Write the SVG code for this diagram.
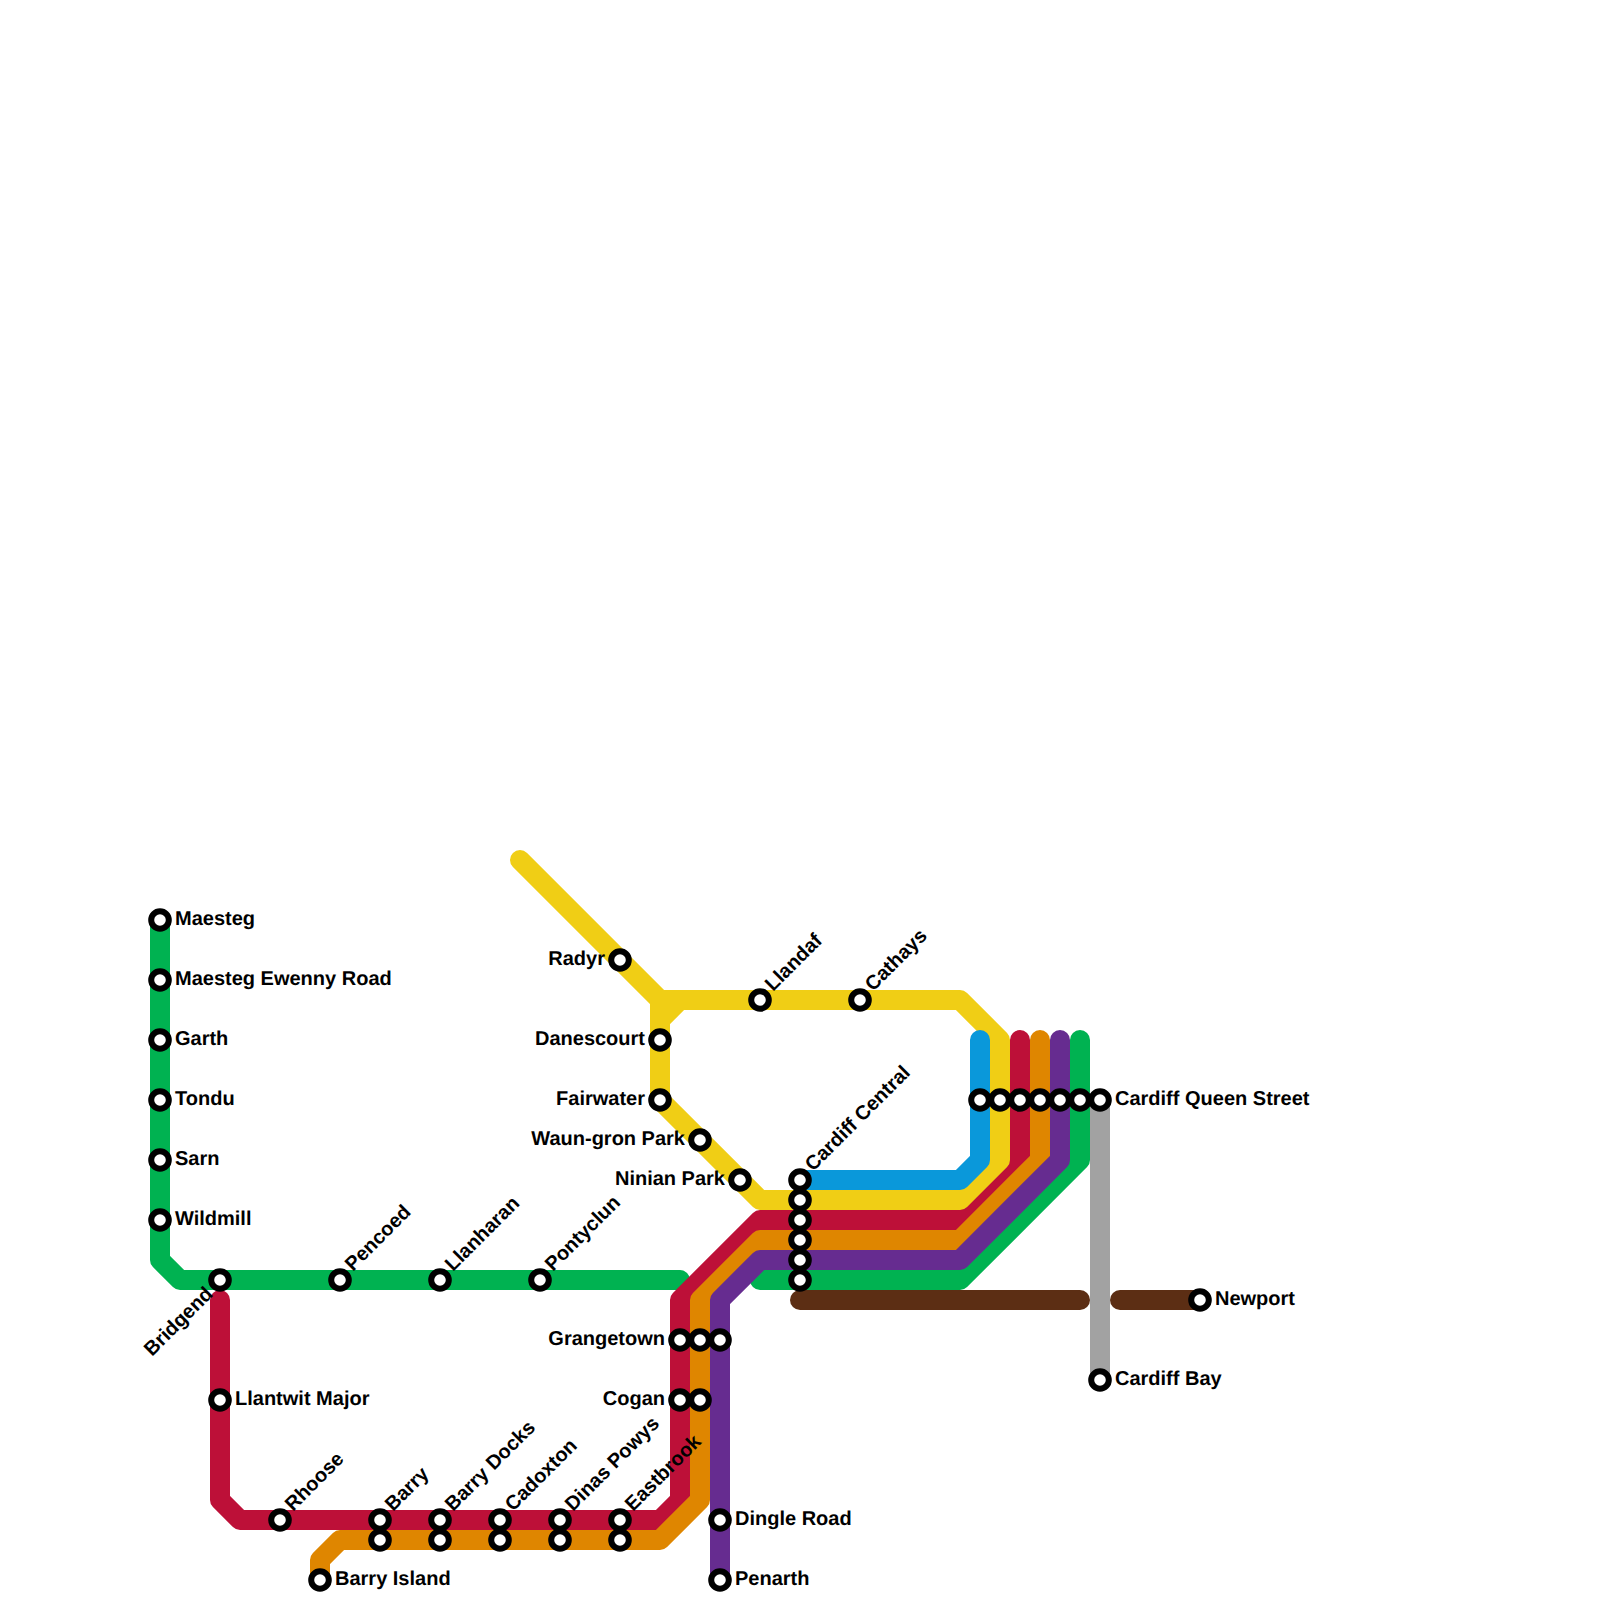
<svg xmlns="http://www.w3.org/2000/svg" width="1600" height="1600" viewBox="0 0 1600 1600">
<style>
.l{fill:none;stroke-width:20;stroke-linecap:round;stroke-linejoin:round}
.s{fill:#fff;stroke:#000;stroke-width:6}
text{font-family:"Liberation Sans",Arial,sans-serif;font-weight:700;font-size:20px;fill:#000;text-rendering:geometricPrecision}
.e{text-anchor:end}
</style>
<rect width="1600" height="1600" fill="#fff"/>
<g id="connectors">
<path class="l" stroke="#a2a2a2" d="M1100 1100V1380"/>
<path class="l" stroke="#5c2e14" d="M800 1300H1080"/>
<path class="l" stroke="#5c2e14" d="M1120 1300H1200"/>
<path class="l" stroke="#00b251" d="M160 920V1260L180 1280H680"/>
<path class="l" stroke="#00b251" d="M1080 1040V1160L960 1280H760"/>
<path class="l" stroke="#bd1038" d="M1020 1040V1160L960 1220H760L680 1300V1500L660 1520H240L220 1500V1300"/>
<path class="l" stroke="#df8600" d="M1040 1040V1160L960 1240H760L700 1300V1500L660 1540H340L320 1560V1580"/>
<path class="l" stroke="#662c90" d="M1060 1040V1160L960 1260H760L720 1300V1580"/>
<path class="l" stroke="#f0ce15" d="M520 860L660 1000H960L1000 1040V1160L960 1200H760L660 1100V1000M660 1020L680 1000"/>
<path class="l" stroke="#0a98da" d="M980 1040V1160L960 1180H800"/>
</g>
<g id="st-maesteg"><circle class="s" cx="160" cy="920" r="8.8"/><text x="175" y="925">Maesteg</text></g>
<g id="st-maesteg-ewenny"><circle class="s" cx="160" cy="980" r="8.8"/><text x="175" y="985">Maesteg Ewenny Road</text></g>
<g id="st-garth"><circle class="s" cx="160" cy="1040" r="8.8"/><text x="175" y="1045">Garth</text></g>
<g id="st-tondu"><circle class="s" cx="160" cy="1100" r="8.8"/><text x="175" y="1105">Tondu</text></g>
<g id="st-sarn"><circle class="s" cx="160" cy="1160" r="8.8"/><text x="175" y="1165">Sarn</text></g>
<g id="st-wildmill"><circle class="s" cx="160" cy="1220" r="8.8"/><text x="175" y="1225">Wildmill</text></g>
<g id="st-bridgend"><circle class="s" cx="220" cy="1280" r="8.8"/><text class="e" transform="translate(214 1295) rotate(-45)">Bridgend</text></g>
<g id="st-pencoed"><circle class="s" cx="340" cy="1280" r="8.8"/><text transform="translate(353 1272) rotate(-45)">Pencoed</text></g>
<g id="st-llanharan"><circle class="s" cx="440" cy="1280" r="8.8"/><text transform="translate(453 1272) rotate(-45)">Llanharan</text></g>
<g id="st-pontyclun"><circle class="s" cx="540" cy="1280" r="8.8"/><text transform="translate(553 1272) rotate(-45)">Pontyclun</text></g>
<g id="st-llantwit"><circle class="s" cx="220" cy="1400" r="8.8"/><text x="235" y="1405">Llantwit Major</text></g>
<g id="st-rhoose"><circle class="s" cx="280" cy="1520" r="8.8"/><text transform="translate(293 1512) rotate(-45)">Rhoose</text></g>
<g id="st-barry"><circle class="s" cx="380" cy="1520" r="8.8"/><circle class="s" cx="380" cy="1540" r="8.8"/><text transform="translate(393 1512) rotate(-45)">Barry</text></g>
<g id="st-barry-docks"><circle class="s" cx="440" cy="1520" r="8.8"/><circle class="s" cx="440" cy="1540" r="8.8"/><text transform="translate(453 1512) rotate(-45)">Barry Docks</text></g>
<g id="st-cadoxton"><circle class="s" cx="500" cy="1520" r="8.8"/><circle class="s" cx="500" cy="1540" r="8.8"/><text transform="translate(513 1512) rotate(-45)">Cadoxton</text></g>
<g id="st-dinas-powys"><circle class="s" cx="560" cy="1520" r="8.8"/><circle class="s" cx="560" cy="1540" r="8.8"/><text transform="translate(573 1512) rotate(-45)">Dinas Powys</text></g>
<g id="st-eastbrook"><circle class="s" cx="620" cy="1520" r="8.8"/><circle class="s" cx="620" cy="1540" r="8.8"/><text transform="translate(633 1512) rotate(-45)">Eastbrook</text></g>
<g id="st-barry-island"><circle class="s" cx="320" cy="1580" r="8.8"/><text x="335" y="1585">Barry Island</text></g>
<g id="st-grangetown"><circle class="s" cx="680" cy="1340" r="8.8"/><circle class="s" cx="700" cy="1340" r="8.8"/><circle class="s" cx="720" cy="1340" r="8.8"/><text class="e" x="665" y="1345">Grangetown</text></g>
<g id="st-cogan"><circle class="s" cx="680" cy="1400" r="8.8"/><circle class="s" cx="700" cy="1400" r="8.8"/><text class="e" x="665" y="1405">Cogan</text></g>
<g id="st-dingle"><circle class="s" cx="720" cy="1520" r="8.8"/><text x="735" y="1525">Dingle Road</text></g>
<g id="st-penarth"><circle class="s" cx="720" cy="1580" r="8.8"/><text x="735" y="1585">Penarth</text></g>
<g id="st-radyr"><circle class="s" cx="620" cy="960" r="8.8"/><text class="e" x="605" y="965">Radyr</text></g>
<g id="st-danescourt"><circle class="s" cx="660" cy="1040" r="8.8"/><text class="e" x="645" y="1045">Danescourt</text></g>
<g id="st-fairwater"><circle class="s" cx="660" cy="1100" r="8.8"/><text class="e" x="645" y="1105">Fairwater</text></g>
<g id="st-waun-gron"><circle class="s" cx="700" cy="1140" r="8.8"/><text class="e" x="685" y="1145">Waun-gron Park</text></g>
<g id="st-ninian"><circle class="s" cx="740" cy="1180" r="8.8"/><text class="e" x="725" y="1185">Ninian Park</text></g>
<g id="st-llandaf"><circle class="s" cx="760" cy="1000" r="8.8"/><text transform="translate(773 992) rotate(-45)">Llandaf</text></g>
<g id="st-cathays"><circle class="s" cx="860" cy="1000" r="8.8"/><text transform="translate(873 992) rotate(-45)">Cathays</text></g>
<g id="st-cardiff-central"><circle class="s" cx="800" cy="1180" r="8.8"/><circle class="s" cx="800" cy="1200" r="8.8"/><circle class="s" cx="800" cy="1220" r="8.8"/><circle class="s" cx="800" cy="1240" r="8.8"/><circle class="s" cx="800" cy="1260" r="8.8"/><circle class="s" cx="800" cy="1280" r="8.8"/><text transform="translate(813 1172) rotate(-45)">Cardiff Central</text></g>
<g id="st-queen-street"><circle class="s" cx="980" cy="1100" r="8.8"/><circle class="s" cx="1000" cy="1100" r="8.8"/><circle class="s" cx="1020" cy="1100" r="8.8"/><circle class="s" cx="1040" cy="1100" r="8.8"/><circle class="s" cx="1060" cy="1100" r="8.8"/><circle class="s" cx="1080" cy="1100" r="8.8"/><circle class="s" cx="1100" cy="1100" r="8.8"/><text x="1115" y="1105">Cardiff Queen Street</text></g>
<g id="st-cardiff-bay"><circle class="s" cx="1100" cy="1380" r="8.8"/><text x="1115" y="1385">Cardiff Bay</text></g>
<g id="st-newport"><circle class="s" cx="1200" cy="1300" r="8.8"/><text x="1215" y="1305">Newport</text></g>
</svg>
